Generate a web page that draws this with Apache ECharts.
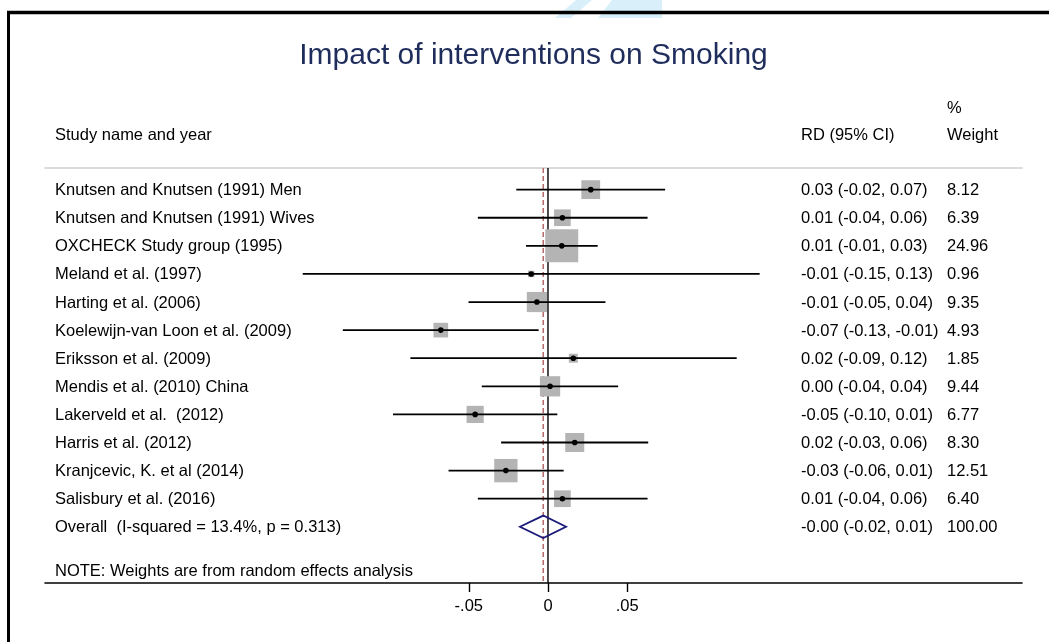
<!DOCTYPE html>
<html>
<head>
<meta charset="utf-8">
<script src="https://cdn.jsdelivr.net/npm/echarts@6/dist/echarts.min.js"></script>
<style>
html,body{margin:0;padding:0;background:#fff;}
#chart{width:1049px;height:642px;}
</style>
</head>
<body>
<div id="chart"></div>
<script>
// ---- data ----
const studies = [
  "Knutsen and Knutsen (1991) Men",
  "Knutsen and Knutsen (1991) Wives",
  "OXCHECK Study group (1995)",
  "Meland et al. (1997)",
  "Harting et al. (2006)",
  "Koelewijn-van Loon et al. (2009)",
  "Eriksson et al. (2009)",
  "Mendis et al. (2010) China",
  "Lakerveld et al.  (2012)",
  "Harris et al. (2012)",
  "Kranjcevic, K. et al (2014)",
  "Salisbury et al. (2016)"
];
const rdEst   = [0.027, 0.0091, 0.0087, -0.0106, -0.007, -0.0677, 0.016, 0.0013, -0.046, 0.0169, -0.0266, 0.0091];
const ciLow   = [-0.020, -0.0443, -0.0139, -0.1549, -0.0502, -0.1296, -0.0869, -0.0418, -0.0979, -0.0296, -0.0628, -0.0443];
const ciHigh  = [0.074, 0.0629, 0.0314, 0.1337, 0.0363, -0.0059, 0.1192, 0.0443, 0.0059, 0.0633, 0.0099, 0.0629];
const weights = [8.12, 6.39, 24.96, 0.96, 9.35, 4.93, 1.85, 9.44, 6.77, 8.30, 12.51, 6.40];
const overallLabel = "Overall  (I-squared = 13.4%, p = 0.313)";
const overallEst = -0.003;
const overallLow = -0.0177;
const overallHigh = 0.0114;
const overallWeight = 100;
const xTicks = [-0.05, 0, 0.05];
const xTickLabels = ["-.05", "0", ".05"];
const titleText = "Impact of interventions on Smoking";
const noteText = "NOTE: Weights are from random effects analysis";

// ---- build ----
const FONT = "Liberation Sans, Arial, Helvetica, sans-serif";
const FS = 16.5;
const rows = studies.map((s, i) => [i + 1, rdEst[i], ciLow[i], ciHigh[i], weights[i], 0, s]);
rows.push([studies.length + 1, overallEst, overallLow, overallHigh, overallWeight, 1, overallLabel]);

function fmt(v) { return v.toFixed(2); }

function renderRow(params, api) {
  const r = rows[params.dataIndex];
  const row = r[0], est = r[1], lo = r[2], hi = r[3], w = r[4], isOverall = r[5], label = r[6];
  const pEst = api.coord([est, row]);
  const pLo = api.coord([lo, row]);
  const pHi = api.coord([hi, row]);
  const y = pEst[1];
  const children = [];
  const txt = (t, x) => ({
    type: 'text',
    style: { text: t, x: x, y: y + 1, fill: '#000', fontSize: FS, fontFamily: FONT, align: 'left', verticalAlign: 'middle' }
  });
  children.push(txt(label, 55));
  children.push(txt(fmt(est) + ' (' + fmt(lo) + ', ' + fmt(hi) + ')', 801));
  children.push(txt(fmt(w), 947));
  if (!isOverall) {
    const side = 6.6 * Math.sqrt(w);
    children.push({ type: 'rect', shape: { x: pEst[0] - side / 2, y: y - side / 2, width: side, height: side },
      style: { fill: '#b4b4b4' } });
    children.push({ type: 'line', shape: { x1: pLo[0], y1: y, x2: pHi[0], y2: y },
      style: { stroke: '#000', lineWidth: 1.8 } });
    children.push({ type: 'circle', shape: { cx: pEst[0], cy: y, r: 2.8 }, style: { fill: '#000' } });
  } else {
    const h = api.size([0, 1])[1] * 0.4;
    children.push({ type: 'polygon', shape: { points: [[pLo[0], y], [pEst[0], y - h], [pHi[0], y], [pEst[0], y + h]] },
      style: { fill: 'none', stroke: '#1a1a7a', lineWidth: 1.8 } });
  }
  return { type: 'group', children: children };
}

// reference lines: null effect (solid) and overall estimate (dashed)
const refLines = [[0, 1, 0], [overallEst, 1, 1]];
function renderRef(params, api) {
  const cs = params.coordSys;
  const x = api.coord([api.value(0), api.value(1)])[0];
  const dashed = api.value(2) === 1;
  return {
    type: 'line',
    shape: { x1: x, y1: cs.y, x2: x, y2: cs.y + cs.height },
    style: dashed
      ? { stroke: '#b56b6b', lineWidth: 1.5, lineDash: [5, 3] }
      : { stroke: '#000', lineWidth: 1.4 }
  };
}

const xMin = -0.3177, xMax = 0.2994;

const chart = echarts.init(document.getElementById('chart'), null, { renderer: 'canvas' });
chart.setOption({
  animation: false,
  backgroundColor: '#fff',
  grid: { left: 45, right: 27, top: 168, bottom: 59 },
  xAxis: [
    {
      type: 'value', min: xMin, max: xMax, position: 'bottom',
      splitLine: { show: false },
      axisLine: { show: true, lineStyle: { color: '#000', width: 1.6 } },
      axisTick: { show: true, customValues: xTicks, length: 9, lineStyle: { color: '#000', width: 1.4 } },
      axisLabel: {
        show: true, customValues: xTicks, margin: 15,
        fontSize: FS, fontFamily: FONT, color: '#000',
        formatter: function (v) {
          for (let i = 0; i < xTicks.length; i++) if (Math.abs(xTicks[i] - v) < 1e-9) return xTickLabels[i];
          return '';
        }
      }
    },
    {
      type: 'value', min: xMin, max: xMax, position: 'top',
      splitLine: { show: false },
      axisLine: { show: true, lineStyle: { color: '#cfcfcf', width: 1.6 } },
      axisTick: { show: false }, axisLabel: { show: false }
    }
  ],
  yAxis: {
    type: 'value', inverse: true, min: 0.23, max: 15, show: false
  },
  series: [
    {
      type: 'custom', z: 1, silent: true,
      renderItem: renderRef,
      data: refLines,
      encode: { x: 0, y: 1 },
      clip: false
    },
    {
      type: 'custom', z: 5, silent: true,
      renderItem: renderRow,
      data: rows.map(r => [r[1], r[0]]),
      encode: { x: 0, y: 1 },
      clip: false
    }
  ],
  graphic: [
    { type: 'polygon', z: 0, shape: { points: [[555, 18], [571, 18], [592, 0], [576, 0]] }, style: { fill: '#d9f0fb' } },
    { type: 'polygon', z: 0, shape: { points: [[598, 18], [662, 18], [662, 0], [612, 0]] }, style: { fill: '#d9f0fb' } },
    { type: 'line', z: 10, shape: { x1: 7, y1: 12.5, x2: 1049, y2: 12.5 }, style: { stroke: '#000', lineWidth: 3.5 } },
    { type: 'line', z: 10, shape: { x1: 8.5, y1: 11, x2: 8.5, y2: 642 }, style: { stroke: '#000', lineWidth: 3 } },
    { type: 'text', style: { text: titleText, x: 533.5, y: 56, fill: '#1f2d5c', fontSize: 30, fontFamily: FONT, align: 'center', verticalAlign: 'middle' } },
    { type: 'text', style: { text: 'Study name and year', x: 55, y: 135, fill: '#000', fontSize: FS, fontFamily: FONT, align: 'left', verticalAlign: 'middle' } },
    { type: 'text', style: { text: 'RD (95% CI)', x: 801, y: 135, fill: '#000', fontSize: FS, fontFamily: FONT, align: 'left', verticalAlign: 'middle' } },
    { type: 'text', style: { text: '%', x: 947, y: 108, fill: '#000', fontSize: FS, fontFamily: FONT, align: 'left', verticalAlign: 'middle' } },
    { type: 'text', style: { text: 'Weight', x: 947, y: 135, fill: '#000', fontSize: FS, fontFamily: FONT, align: 'left', verticalAlign: 'middle' } },
    { type: 'text', style: { text: noteText, x: 55, y: 571, fill: '#000', fontSize: FS, fontFamily: FONT, align: 'left', verticalAlign: 'middle' } }
  ]
});
</script>
</body>
</html>
